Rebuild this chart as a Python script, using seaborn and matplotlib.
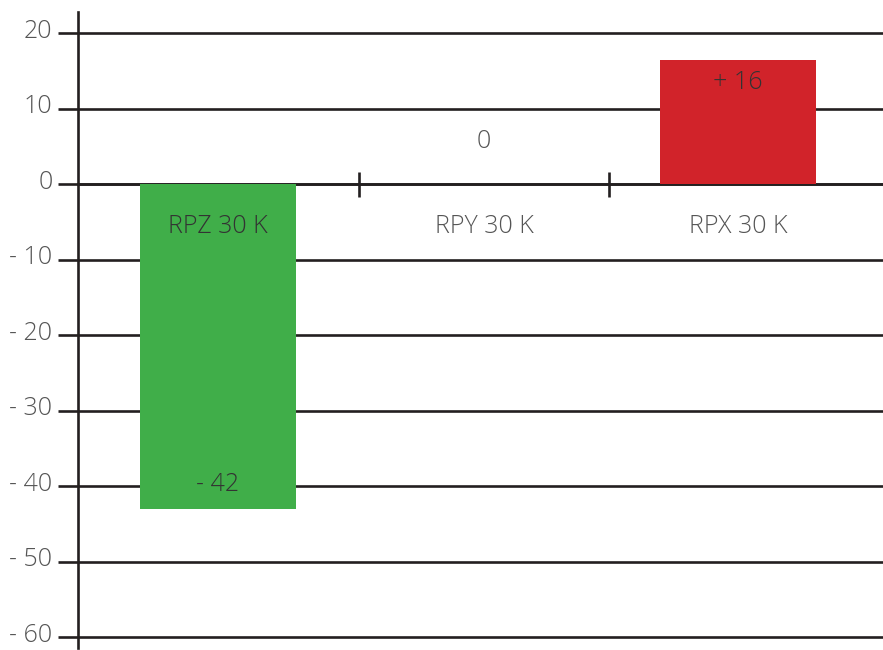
import numpy as np
import pandas as pd
import seaborn as sns
import matplotlib.pyplot as plt
import matplotlib.transforms as mtransforms

# data
categories = ['RPZ 30 K', 'RPY 30 K', 'RPX 30 K']
bar_values = [-43, 0, 16.4]
value_labels = ['- 42', '0', '+ 16']
bar_colors = ['#40ae49', '#ffffff', '#d1232a']
y_ticks = [20, 10, 0, -10, -20, -30, -40, -50, -60]
y_tick_labels = ['20', '10', '0', '- 10', '- 20', '- 30', '- 40', '- 50', '- 60']

df = pd.DataFrame({'category': categories, 'value': bar_values})

sns.set_style('white')
plt.rcParams['font.family'] = ['Open Sans', 'DejaVu Sans']
plt.rcParams['font.weight'] = 'light'

fig = plt.figure(figsize=(8.83, 6.5), dpi=100)
ax = fig.add_axes([78 / 883, 2 / 650, 805 / 883, 636 / 650])

line_col = '#231f20'
ax = sns.barplot(data=df, x='category', y='value', hue='category',
                 palette=bar_colors, width=0.6, legend=False, ax=ax,
                 saturation=1, linewidth=0, zorder=3)

ax.set_xlim(-0.538, 2.558)
ax.set_ylim(-61.45, 22.8)
ax.set_xlabel('')
ax.set_ylabel('')

# horizontal grid + y ticks
ax.set_yticks(y_ticks)
ax.set_yticklabels(y_tick_labels, fontsize=18, color='#555555')
ax.yaxis.grid(True, color=line_col, linewidth=1.9, zorder=1)
ax.set_axisbelow(True)
ax.tick_params(axis='y', direction='out', length=14.4, width=1.9,
               color=line_col, pad=4, left=True)
# labels sit a little above their gridline
shift = mtransforms.ScaledTranslation(0, 5 / 100, fig.dpi_scale_trans)
for t in ax.get_yticklabels():
    t.set_transform(t.get_transform() + shift)

# zero line as bottom spine with category separators
for s in ['top', 'right']:
    ax.spines[s].set_visible(False)
ax.spines['left'].set_color(line_col)
ax.spines['left'].set_linewidth(1.9)
ax.spines['bottom'].set_position(('data', 0))
ax.spines['bottom'].set_color(line_col)
ax.spines['bottom'].set_linewidth(1.9)
ax.spines['bottom'].set_zorder(0)
ax.set_xticks([0.542, 1.504])
ax.set_xticklabels([])
ax.tick_params(axis='x', direction='inout', length=18, width=1.9,
               color=line_col, bottom=True)

# labels
for i, (cat, v, lab) in enumerate(zip(categories, bar_values, value_labels)):
    cat_col = '#333333' if v < 0 else '#555555'
    lx = i + 0.023 if v == 0 else i
    ax.text(lx, -5.6, cat, ha='center', va='center', fontsize=18,
            color=cat_col, zorder=5)
    if v < 0:
        ly = v + 3.2
    elif v > 0:
        ly = v - 2.9
    else:
        ly = 5.7
    ax.text(lx, ly, lab, ha='center', va='center', fontsize=18,
            color='#333333' if v != 0 else '#555555', zorder=5)

plt.savefig('out.png', dpi=100)
